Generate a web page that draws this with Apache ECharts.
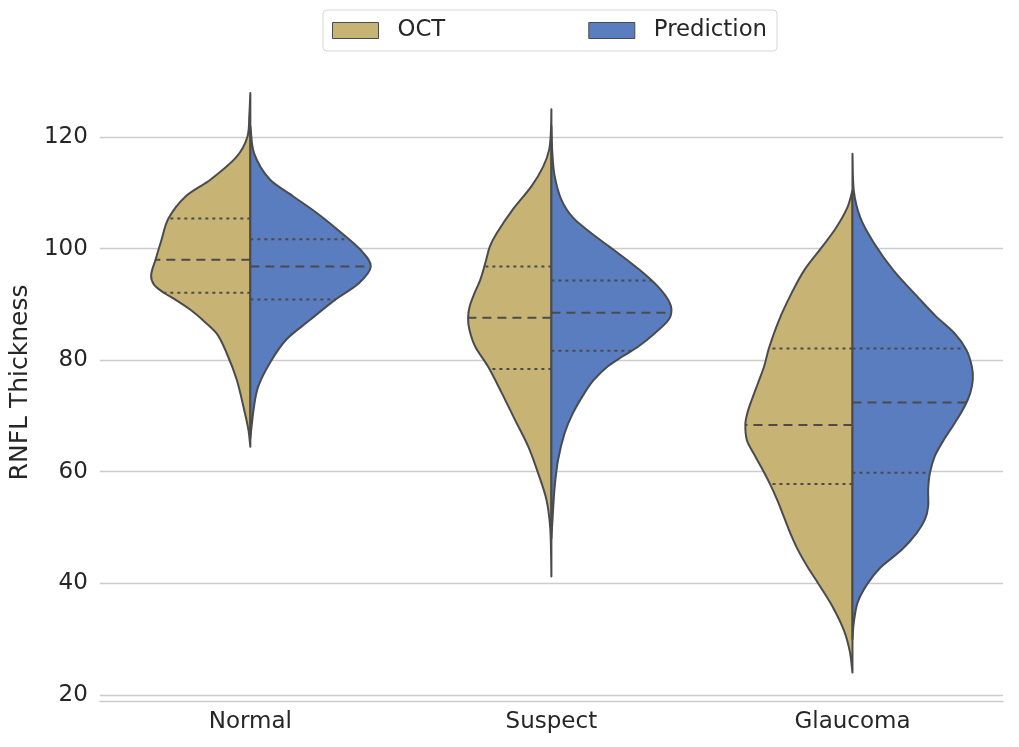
<!DOCTYPE html>
<html><head><meta charset="utf-8">
<script src="https://cdn.jsdelivr.net/npm/echarts@6/dist/echarts.min.js"></script>
<style>html,body{margin:0;padding:0;background:#fff}#c{width:1019px;height:747px}</style>
</head><body><div id="c"></div><script>
// ---- data ----
const categories = ['Normal', 'Suspect', 'Glaucoma'];
const hues = ['OCT', 'Prediction'];
const yTicks = [20, 40, 60, 80, 100, 120];

// Kernel density profiles: RNFL value and relative density
const normalOctY = [127.9, 124, 120, 116.5, 112.4, 109.4, 105.5, 101.6, 98, 95.2, 93.5, 92.1, 90.9, 89, 87.2, 84.8, 81.2, 76.5, 71.7, 67.6, 64.5];
const normalOctD = [0, 1, 3, 13.7, 40, 65, 82.3, 89.5, 95.6, 100, 97, 87.3, 76, 60, 48, 34, 23.7, 13.7, 7, 2, 0];
const normalPredY = [122, 117, 112.4, 109.4, 106.4, 103.4, 99.8, 96.8, 93.8, 90.9, 87.2, 83.7, 79.5, 75.3, 71.7, 66];
const normalPredD = [0, 4, 19.7, 43, 67, 88, 111, 121.4, 109.4, 86, 60, 36.3, 19.7, 8, 3.7, 0];

const suspectOctY = [125, 121, 117.7, 114.7, 111.2, 107, 102.8, 100.4, 97.5, 94.4, 92.1, 89.7, 87.6, 85.5, 82.5, 78.9, 74.1, 69.3, 64.5, 59.7, 55, 50.2, 45, 41.2];
const suspectOctD = [0, 0.5, 2.3, 8.3, 20, 39, 55, 62, 66.5, 71.7, 77.3, 82.3, 84, 82.7, 77, 64, 50, 36.7, 23.3, 13.3, 5, 1.3, 0.3, 0];
const suspectPredY = [122, 117, 113, 108.8, 105.5, 102.8, 100.4, 98, 95.6, 93.2, 90.9, 89.1, 87.2, 84.8, 82.5, 80.7, 78.9, 76.5, 74.1, 70.5, 66.9, 62.1, 57.3, 52, 48];
const suspectPredD = [0, 1, 3.3, 10, 22, 40, 58, 76, 93, 107.5, 117.5, 121, 118, 104, 88, 72, 57, 43, 33.3, 21.7, 13.3, 6.7, 3.3, 1.3, 0];

const glaucomaOctY = [110.4, 107.3, 103.6, 100, 96.1, 91.8, 87.2, 82.1, 78.9, 76, 73, 70.5, 68.5, 65.7, 63.4, 61, 58, 55, 52, 49, 46, 43, 40.2, 35.9, 31.6, 27.8, 24];
const glaucomaOctD = [0, 5.3, 17, 32, 48.7, 62, 74, 84.3, 89, 95, 101.3, 106, 108, 106.5, 100, 92.5, 83.7, 76, 69.3, 62.7, 55, 45.5, 35.3, 20.3, 8.7, 2.7, 0];
const glaucomaPredY = [117, 110.4, 105.5, 101.1, 96.1, 90.9, 87.9, 84.8, 81.9, 78.9, 76.5, 74.1, 71.7, 68.7, 65.7, 62.8, 59.7, 56.8, 53.8, 51.4, 49, 46, 42.8, 39.8, 36.6, 32.9, 30];
const glaucomaPredD = [0, 1.3, 8, 21.3, 41.3, 68, 84, 103, 114.7, 120.3, 121.3, 118.7, 113, 103, 92, 83, 78, 76.3, 76.3, 73, 64.7, 49.7, 28, 14.7, 5.3, 1.3, 0];

// Quartiles [Q1, median, Q3]
const normalOctQ = [92.1, 98.0, 105.4];
const normalPredQ = [90.9, 96.8, 101.7];
const suspectOctQ = [78.4, 87.6, 96.8];
const suspectPredQ = [81.7, 88.5, 94.3];
const glaucomaOctQ = [57.8, 68.4, 82.1];
const glaucomaPredQ = [59.8, 72.4, 82.1];

// ---- build ----
const profiles = {
  OCT: [
    {y: normalOctY, d: normalOctD, q: normalOctQ},
    {y: suspectOctY, d: suspectOctD, q: suspectOctQ},
    {y: glaucomaOctY, d: glaucomaOctD, q: glaucomaOctQ}
  ],
  Prediction: [
    {y: normalPredY, d: normalPredD, q: normalPredQ},
    {y: suspectPredY, d: suspectPredD, q: suspectPredQ},
    {y: glaucomaPredY, d: glaucomaPredD, q: glaucomaPredQ}
  ]
};
const colors = {OCT: '#C7B475', Prediction: '#597DBF'};
const EDGE = '#4b4b4b';
let DENS_MAX = 0;
hues.forEach(h => profiles[h].forEach(p => p.d.forEach(v => { if (v > DENS_MAX) DENS_MAX = v; })));
const HALF_WIDTH = 0.4; // fraction of category band for widest half

// tangents of the density as a function of value (finite differences)
function slopes(ys, ds) {
  const n = ys.length, m = new Array(n);
  for (let i = 0; i < n; i++) {
    if (i === 0) m[i] = (ds[1] - ds[0]) / (ys[1] - ys[0]);
    else if (i === n - 1) m[i] = (ds[n - 1] - ds[n - 2]) / (ys[n - 1] - ys[n - 2]);
    else m[i] = (ds[i + 1] - ds[i - 1]) / (ys[i + 1] - ys[i - 1]);
  }
  return m;
}
function evalD(ys, ds, m, v) {
  for (let i = 0; i < ys.length - 1; i++) {
    const a = ys[i], b = ys[i + 1];
    if (v <= a && v >= b) {
      const h = b - a, t = (v - a) / h;
      const h00 = 2 * t * t * t - 3 * t * t + 1, h10 = t * t * t - 2 * t * t + t;
      const h01 = -2 * t * t * t + 3 * t * t, h11 = t * t * t - t * t;
      return Math.max(0, h00 * ds[i] + h10 * h * m[i] + h01 * ds[i + 1] + h11 * h * m[i + 1]);
    }
  }
  return 0;
}

function makeRender(hue) {
  const side = hue === 'OCT' ? -1 : 1;
  return function (params, api) {
    const ci = api.value(0);
    const p = profiles[hue][ci];
    const m = slopes(p.y, p.d);
    const band = api.size([1, 0])[0];
    const k = HALF_WIDTH * band / DENS_MAX;
    const cx = api.coord([ci, p.y[0]])[0];
    const X = d => cx + side * Math.max(0, d) * k;
    const Y = v => api.coord([ci, v])[1];
    let path = 'M' + X(p.d[0]).toFixed(2) + ' ' + Y(p.y[0]).toFixed(2);
    for (let i = 0; i < p.y.length - 1; i++) {
      const h = p.y[i + 1] - p.y[i];
      const c1v = p.y[i] + h / 3, c1d = p.d[i] + m[i] * h / 3;
      const c2v = p.y[i + 1] - h / 3, c2d = p.d[i + 1] - m[i + 1] * h / 3;
      path += ' C' + X(c1d).toFixed(2) + ' ' + Y(c1v).toFixed(2) + ' ' + X(c2d).toFixed(2) + ' ' + Y(c2v).toFixed(2) +
        ' ' + X(p.d[i + 1]).toFixed(2) + ' ' + Y(p.y[i + 1]).toFixed(2);
    }
    path += ' Z';
    const children = [{
      type: 'path',
      shape: {pathData: path},
      style: {fill: colors[hue], stroke: EDGE, lineWidth: 2, lineJoin: 'round'}
    }];
    p.q.forEach((qv, qi) => {
      const c = api.coord([ci, qv]);
      const w = evalD(p.y, p.d, m, qv) * k;
      children.push({
        type: 'line',
        shape: {x1: c[0], y1: c[1], x2: c[0] + side * w, y2: c[1]},
        style: {stroke: EDGE, lineWidth: 2, lineDash: qi === 1 ? [9, 6] : [3, 4]}
      });
    });
    return {type: 'group', children: children};
  };
}

const FONT = 'DejaVu Sans';
const TXT = '#262626';
const chart = echarts.init(document.getElementById('c'), null, {renderer: 'canvas'});
chart.setOption({
  animation: false,
  backgroundColor: '#ffffff',
  grid: {left: 96, right: 16, top: 64, bottom: 46},
  legend: {
    data: hues,
    top: 10, left: 323,
    icon: 'rect',
    itemWidth: 46, itemHeight: 16, itemGap: 143,
    padding: [9, 10, 9, 9],
    borderColor: '#d6d6d6', borderWidth: 1, borderRadius: 4,
    backgroundColor: '#ffffff',
    itemStyle: {borderColor: EDGE, borderWidth: 1},
    textStyle: {fontFamily: FONT, fontSize: 22.8, color: TXT, padding: [0, 0, 0, 14]}
  },
  xAxis: {
    type: 'category',
    data: categories,
    boundaryGap: true,
    axisLine: {show: true, lineStyle: {color: '#cccccc', width: 1.3}},
    axisTick: {show: false},
    splitLine: {show: false},
    axisLabel: {fontFamily: FONT, fontSize: 23, color: TXT, margin: 10}
  },
  yAxis: {
    type: 'value',
    min: 18.9, max: 133.1,
    name: 'RNFL Thickness',
    nameLocation: 'middle',
    nameGap: 62,
    nameTextStyle: {fontFamily: FONT, fontSize: 25, color: TXT},
    axisLine: {show: false},
    axisTick: {show: false, customValues: yTicks},
    axisLabel: {fontFamily: FONT, fontSize: 23, color: TXT, margin: 12, customValues: yTicks},
    splitLine: {show: true, lineStyle: {color: '#cccccc', width: 1.3}}
  },
  series: hues.map(h => ({
    name: h,
    type: 'custom',
    itemStyle: {color: colors[h], borderColor: EDGE},
    renderItem: makeRender(h),
    encode: {x: 0, y: 1},
    data: categories.map((c, i) => [i, profiles[h][i].q[1]])
  }))
});
</script></body></html>
